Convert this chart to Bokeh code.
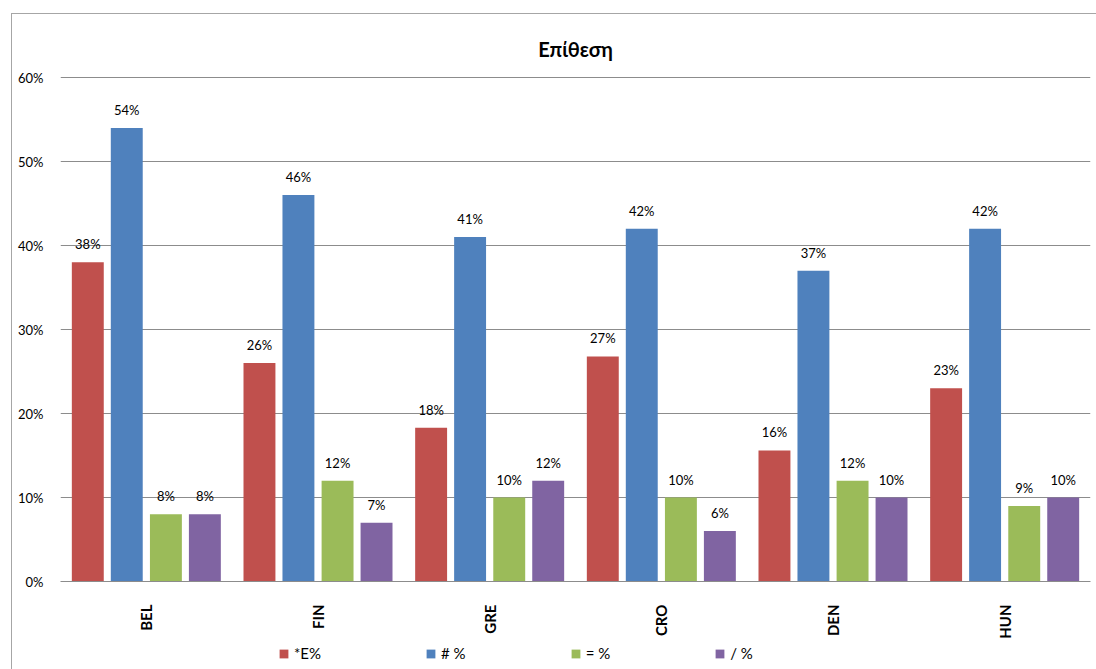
import math
from bokeh.plotting import figure
from bokeh.layouts import column
from bokeh.models import (ColumnDataSource, FactorRange, NumeralTickFormatter, Legend,
                          LegendItem, Label, FixedTicker, Range1d)
from bokeh.core.properties import value
from bokeh.transform import dodge
from bokeh.embed import file_html
from bokeh.resources import INLINE

categories = ["BEL", "FIN", "GRE", "CRO", "DEN", "HUN"]
series_names = ["*E%", "# %", "= %", "/ %"]
e_vals = [0.38, 0.26, 0.183, 0.268, 0.156, 0.23]
hash_vals = [0.54, 0.46, 0.41, 0.42, 0.37, 0.42]
eq_vals = [0.08, 0.12, 0.10, 0.10, 0.12, 0.09]
slash_vals = [0.08, 0.07, 0.12, 0.06, 0.10, 0.10]
y_ticks = [0.0, 0.1, 0.2, 0.3, 0.4, 0.5, 0.6]
colors = ["#C0504D", "#4F81BD", "#9BBB59", "#8064A2"]
title_text = "Επίθεση"

FONT = "Lato"

# main chart: frame 0 at window y=580, 0.6 at y=76 -> 840 px per unit; frame top at y=20
p = figure(x_range=FactorRange(*categories), y_range=Range1d(0, 0.6 + 56 / 840),
           width=1085, height=634, output_backend="svg", toolbar_location=None,
           min_border_left=48, min_border_right=7, min_border_top=7, min_border_bottom=67)
p.outline_line_color = None
p.background_fill_color = "white"
p.border_fill_color = "white"

all_series = [e_vals, hash_vals, eq_vals, slash_vals]
offsets = [-0.341, -0.114, 0.114, 0.341]
for name, vals, col, off in zip(series_names, all_series, colors, offsets):
    src = ColumnDataSource(dict(cat=categories, val=vals,
                                lab=[f"{round(v * 100)}%" for v in vals]))
    p.vbar(x=dodge("cat", off, range=p.x_range), top="val", width=0.186,
           source=src, fill_color=col, line_color=None)
    p.text(x=dodge("cat", off, range=p.x_range), y="val", text="lab", source=src,
           text_align="center", text_baseline="middle", y_offset=-18,
           text_font_size=value("13px"), text_font=value(FONT), text_color="#000000")

p.yaxis.ticker = FixedTicker(ticks=y_ticks)
p.yaxis.formatter = NumeralTickFormatter(format="0%")
p.yaxis.axis_line_color = None
p.yaxis.major_tick_line_color = None
p.yaxis.minor_tick_line_color = None
p.yaxis.major_label_standoff = 11
p.yaxis.major_label_text_font = FONT
p.yaxis.major_label_text_font_size = "13px"
p.yaxis.major_label_text_color = "#000000"

p.xaxis.axis_line_color = "#8c8c8c"
p.xaxis.major_tick_line_color = None
p.xaxis.minor_tick_line_color = None
p.xaxis.major_label_orientation = math.pi / 2
p.xaxis.major_label_standoff = 17
p.xaxis.major_label_text_font = FONT
p.xaxis.major_label_text_font_style = "bold"
p.xaxis.major_label_text_font_size = "15px"
p.xaxis.major_label_text_color = "#000000"

p.xgrid.grid_line_color = None
p.ygrid.grid_line_color = "#8c8c8c"
p.ygrid.grid_line_width = 1

title = Label(x=3, y=0.6 + 29 / 840, text=title_text, text_align="center",
              text_baseline="middle", text_font=FONT, text_font_style="bold",
              text_font_size="20px", text_color="#000000")
p.add_layout(title)

# legend strip below the chart (its frame is aligned with the chart frame by the column)
lg = figure(width=1085, height=22, output_backend="svg", toolbar_location=None,
            x_range=Range1d(0, 1), y_range=Range1d(0, 1),
            x_axis_location=None, y_axis_location=None,
            min_border_left=48, min_border_right=7, min_border_top=0, min_border_bottom=0)
lg.outline_line_color = None
lg.grid.visible = False
lg.background_fill_color = "white"
lg.border_fill_color = "white"
items = []
for name, col in zip(series_names, colors):
    # swatch source for the legend only: lies outside the strip's visible range
    r = lg.vbar(x=[0.5], bottom=[-2], top=[-1], width=0.1, fill_color=col, line_color=None)
    items.append(LegendItem(label=name, renderers=[r]))

legend = Legend(items=items, orientation="horizontal", location=(218, 8),
                glyph_width=11, glyph_height=11, label_standoff=5, spacing=104,
                padding=0, margin=0, border_line_color=None, background_fill_alpha=0,
                label_text_font=FONT, label_text_font_size="15px", label_text_color="#000000",
                label_height=14)
lg.add_layout(legend, "center")

layout = column(p, lg, spacing=0)
layout.margin = (13, 0, 0, 11)
layout.styles = {"border-left": "1px solid #a6a6a6", "border-top": "1px solid #a6a6a6"}

open("out.html", "w").write(file_html(layout, INLINE))
